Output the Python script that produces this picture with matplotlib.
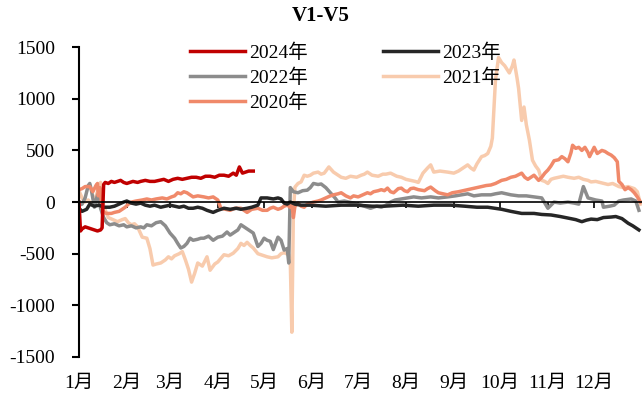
import matplotlib
matplotlib.use('Agg')
import matplotlib.pyplot as plt
import numpy as np

plt.rcParams['font.family'] = ['Liberation Serif', 'Noto Sans CJK SC']
plt.rcParams['axes.unicode_minus'] = False

# month start (day of year) and labels
month_days = [0, 31, 59, 90, 120, 151, 181, 212, 243, 273, 304, 334]
month_labels = ['1月', '2月', '3月', '4月', '5月', '6月', '7月', '8月', '9月', '10月', '11月', '12月']
yticks = [-1500, -1000, -500, 0, 500, 1000, 1500]

# V1-V5 spread, by day of year
d2024 = [0, 1, 2, 4, 6, 8, 10, 12, 14, 15, 16, 17, 19, 21, 23, 25, 27, 29, 31, 33, 35, 38, 40, 43, 46, 49,
         52, 55, 58, 61, 64, 67, 70, 73, 76, 79, 82, 85, 88, 91, 94, 97, 100, 102, 104, 106, 108, 110, 113]
v2024 = [0, -280, -260, -240, -250, -260, -270, -280, -270, -250, 170, 190, 180, 200, 190, 200, 210, 190, 180,
         190, 200, 190, 200, 210, 200, 200, 210, 220, 200, 220, 230, 220, 230, 240, 240, 230, 250, 250, 240,
         260, 260, 250, 280, 260, 340, 280, 290, 300, 300]

d2023 = [0, 2, 5, 7, 10, 13, 16, 20, 23, 26, 29, 31, 34, 37, 40, 43, 46, 49, 53, 56, 59, 62, 65, 68, 71, 74,
         77, 80, 83, 87, 90, 94, 98, 102, 105, 109, 112, 116, 118, 122, 126, 129, 131, 133, 135, 137, 140, 144,
         150, 160, 170, 180, 190, 198, 210, 220, 230, 241, 250, 258, 265, 274, 280, 287, 295, 300, 306, 312,
         317, 322, 326, 329, 332, 336, 340, 345, 348, 352, 356, 359, 363]
v2023 = [-60, -90, -70, -20, -40, -30, -50, -50, -40, -20, 0, 10, -10, -20, -10, -30, -40, -30, -50, -40, -30,
         -40, -50, -40, -60, -60, -50, -60, -80, -100, -80, -60, -70, -60, -70, -60, -50, -30, 40, 40, 30, 40,
         30, -10, -20, 0, -20, -30, -30, -40, -30, -30, -40, -40, -30, -40, -30, -30, -40, -50, -50, -70, -90,
         -110, -110, -120, -125, -140, -155, -170, -190, -175, -165, -170, -150, -145, -140, -160, -205, -230,
         -270]

d2022 = [0, 2, 4, 6, 7, 8, 10, 12, 14, 16, 18, 20, 23, 26, 29, 31, 34, 37, 40, 42, 44, 47, 50, 53, 56, 59,
         62, 64, 66, 68, 70, 72, 74, 77, 79, 81, 84, 87, 90, 93, 96, 98, 100, 103, 105, 108, 110, 113, 116, 118,
         120, 122, 124, 126, 129, 131, 133, 135, 136, 137, 139, 142, 145, 148, 150, 152, 155, 157, 160, 163,
         166, 168, 172, 178, 183, 189, 193, 196, 199, 202, 205, 209, 213, 217, 222, 228, 233, 239, 244, 248,
         252, 256, 261, 267, 270, 274, 280, 285, 290, 295, 300, 304, 308, 312, 317, 321, 324, 327, 330, 335,
         339, 340, 344, 347, 350, 353, 358, 361, 363]
v2022 = [-30, -20, 40, 160, 180, 120, -50, 70, -60, -150, -200, -220, -210, -230, -220, -240, -230, -250,
         -240, -250, -220, -230, -200, -190, -230, -300, -350, -400, -445, -430, -400, -350, -370, -360, -350,
         -350, -330, -370, -340, -330, -290, -320, -300, -270, -220, -250, -270, -300, -430, -400, -350, -370,
         -380, -460, -340, -370, -465, -450, -590, 140, 100, 90, 110, 115, 140, 180, 170, 175, 140, 90, 40, 0,
         10, -10, -30, -60, -40, -50, -30, 0, 20, 30, 40, 50, 40, 50, 40, 50, 60, 70, 80, 60, 70, 70, 80, 90,
         70, 60, 60, 50, 40, -60, 0, -10, 0, -10, -20, 150, 40, 20, 10, -50, -40, -30, 10, 20, 30, 10, -80]

d2021 = [0, 2, 4, 6, 8, 10, 12, 14, 16, 19, 22, 25, 28, 30, 32, 34, 36, 38, 41, 44, 46, 48, 50, 53, 56, 58,
         60, 62, 65, 67, 69, 71, 73, 75, 77, 80, 83, 85, 88, 90, 94, 97, 100, 103, 105, 107, 109, 111, 113, 116,
         118, 120, 122, 125, 129, 131, 133, 136, 137, 138, 139, 140, 142, 144, 146, 148, 150, 152, 155, 157,
         159, 162, 165, 168, 170, 173, 176, 180, 183, 185, 187, 190, 194, 197, 199, 202, 206, 209, 212, 215,
         218, 220, 223, 226, 228, 230, 234, 239, 243, 246, 249, 252, 254, 256, 258, 261, 263, 265, 267, 268,
         270, 272, 274, 276, 279, 281, 282, 284, 285, 287, 288.5, 290, 292, 294, 296, 298, 300, 302, 304, 306,
         308, 311, 314, 317, 321, 324, 327, 330, 332, 335, 339, 343, 346, 350, 353, 356, 360, 362, 364]
v2021 = [110, 40, 0, 20, -20, 20, 100, 190, -40, -150, -170, -190, -170, -160, -200, -220, -210, -240, -340,
         -350, -450, -610, -600, -590, -560, -530, -550, -520, -500, -480, -560, -650, -775, -690, -590, -620,
         -530, -660, -600, -580, -510, -520, -495, -450, -400, -420, -390, -420, -445, -500, -510, -520, -530,
         -540, -530, -500, -490, -510, -580, -1260, -100, 145, 180, 195, 260, 250, 260, 280, 290, 270, 280,
         340, 290, 260, 240, 230, 250, 240, 260, 270, 290, 260, 250, 270, 270, 280, 250, 240, 220, 210, 200,
         190, 280, 330, 360, 290, 300, 290, 280, 300, 330, 360, 330, 310, 370, 440, 450, 470, 540, 620, 1180,
         1400, 1350, 1320, 1250, 1320, 1375, 1200, 1100, 790, 920, 750, 600, 405, 350, 310, 210, 200, 180,
         220, 230, 240, 250, 240, 230, 240, 220, 210, 195, 200, 185, 170, 180, 150, 140, 150, 130, 100, -20]

d2020 = [0, 2, 4, 7, 9, 11, 12, 12.5, 13.6, 15, 16, 18, 21, 23, 26, 28, 30, 32, 34, 37, 41, 44, 47, 50, 54,
         57, 60, 62, 64, 66, 68, 70, 72, 74, 77, 81, 84, 87, 90, 92, 95, 98, 101, 105, 107, 109, 112, 116, 119,
         122, 124, 126, 129, 131, 133, 135, 137, 138, 139, 140, 142, 144, 146, 148, 150, 152, 155, 157, 160,
         163, 165, 168, 170, 173, 176, 178, 181, 184, 187, 189, 191, 194, 196, 198, 200, 202, 204, 207, 209,
         211, 213, 215, 217, 220, 224, 226, 228, 231, 233, 236, 239, 242, 246, 249, 252, 255, 258, 261, 264,
         267, 270, 272, 274, 277, 280, 283, 287, 289, 291, 293, 295, 298, 300, 302, 304, 306, 308, 311, 313,
         315, 317, 319, 320, 322, 324, 326, 328, 330, 331, 333, 334, 336, 337, 339, 341, 343, 345, 347, 349,
         350, 352, 354, 356, 358, 360, 362, 364]
v2020 = [120, 130, 150, 150, 100, 160, 180, 60, 140, -60, -100, -110, -110, -100, -90, -70, -50, -20, 0, 10,
         20, 30, 20, 30, 40, 30, 50, 60, 90, 80, 100, 90, 70, 50, 60, 50, 40, 50, 20, -60, -70, -80, -60, -60,
         -80, -100, -70, -60, -80, -80, -60, -50, -70, -60, -40, -30, -50, -10, -150, -40, -10, -40, -50, -20,
         -10, 0, 10, 20, 40, 60, 70, 80, 90, 60, 40, 60, 50, 70, 90, 80, 100, 110, 120, 110, 135, 100, 90, 130,
         135, 110, 100, 130, 135, 120, 110, 130, 145, 110, 90, 80, 70, 90, 100, 110, 120, 130, 140, 150, 160,
         165, 180, 195, 210, 220, 240, 250, 280, 240, 220, 240, 260, 210, 240, 280, 310, 350, 400, 410, 440,
         420, 390, 480, 550, 520, 530, 500, 530, 480, 440, 500, 530, 470, 480, 500, 490, 470, 455, 430, 390,
         200, 170, 120, 140, 120, 90, 50, 0]

fig = plt.figure(figsize=(6.42, 3.96), dpi=100)
ax = fig.add_axes([0.123, 0.0985, 0.877, 0.7825])

lw = 2.5
l21, = ax.plot(d2021, v2021, color='#F8CBAD', lw=lw, label='2021年')
l22, = ax.plot(d2022, v2022, color='#8C8C8C', lw=lw, label='2022年')
l20, = ax.plot(d2020, v2020, color='#F0896A', lw=lw, label='2020年')
l23, = ax.plot(d2023, v2023, color='#262626', lw=lw, label='2023年')
l24, = ax.plot(d2024, v2024, color='#C00000', lw=lw, label='2024年')

ax.set_xlim(0, 365)
ax.set_ylim(-1500, 1500)
ax.set_yticks(yticks)
ax.set_yticklabels([str(t) for t in yticks])

for s in ['top', 'right']:
    ax.spines[s].set_visible(False)
ax.spines['left'].set_linewidth(1.5)
# x axis line sits on zero, month labels stay at the bottom
ax.spines['bottom'].set_position(('data', 0))
ax.spines['bottom'].set_linewidth(1.2)
ax.set_xticks(month_days)
ax.tick_params(axis='x', direction='out', length=4, width=1.2, labelbottom=False)
ax.tick_params(axis='y', direction='out', length=5, width=1.5, labelsize=14, pad=12)

sec = ax.secondary_xaxis('bottom')
sec.set_xticks(month_days)
sec.set_xticklabels(month_labels)
sec.tick_params(length=0, labelsize=14, pad=13)
sec.spines['bottom'].set_visible(False)

fig.suptitle('V1-V5', x=0.5, y=0.985, fontsize=15, fontweight='bold')

# row-major order: 2024 2023 / 2022 2021 / 2020
ax.legend(handles=[l24, l22, l20, l23, l21], ncol=2, frameon=False, fontsize=14,
          loc='upper left', bbox_to_anchor=(0.197, 1.013), handlelength=2.85,
          handletextpad=0.2, columnspacing=3.85, labelspacing=0.35, borderaxespad=0,
          borderpad=0)

fig.savefig('out.png', dpi=100)
